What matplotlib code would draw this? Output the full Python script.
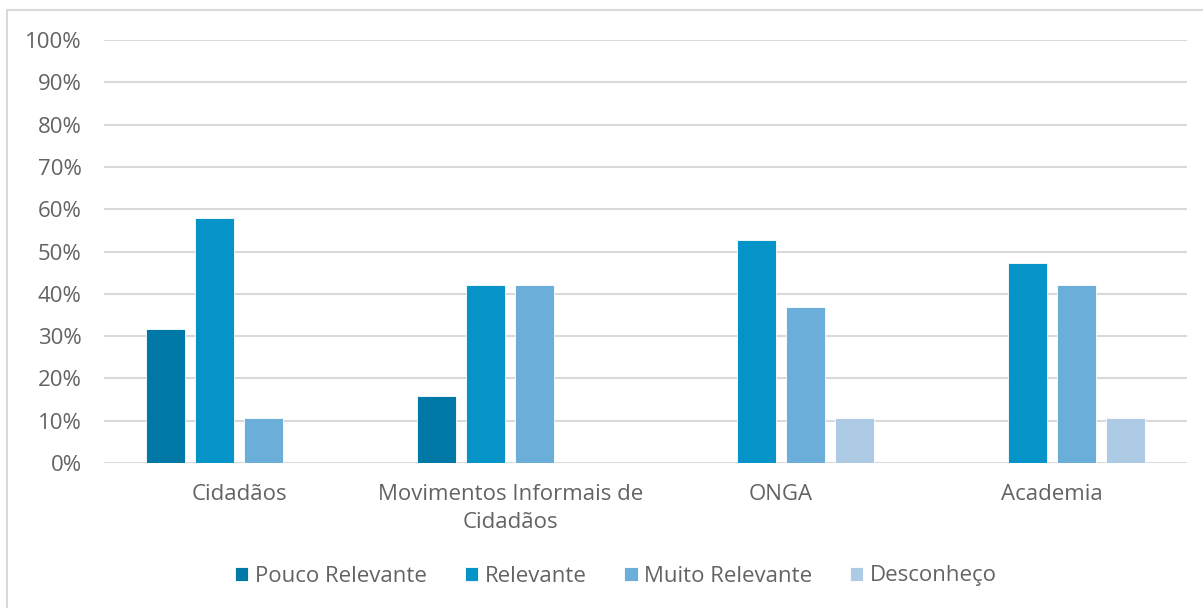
import numpy as np
import matplotlib.pyplot as plt
from matplotlib.patches import Rectangle
from matplotlib.ticker import PercentFormatter

plt.rcParams['font.family'] = ['Open Sans', 'DejaVu Sans']

categories = ['Cidadãos', 'Movimentos Informais de\nCidadãos', 'ONGA', 'Academia']
series = ['Pouco Relevante', 'Relevante', 'Muito Relevante', 'Desconheço']
pouco = [0.3158, 0.1579, 0.0, 0.0]
relevante = [0.5789, 0.4211, 0.5263, 0.4737]
muito = [0.1053, 0.4211, 0.3684, 0.4211]
desconheco = [0.0, 0.0, 0.1053, 0.1053]
colors = ['#0079A6', '#0593C8', '#6BAED9', '#AECBE6']

text_color = '#636363'
grid_color = '#D9D9D9'
fs = 16

fig = plt.figure(figsize=(12.03, 6.08), dpi=100)
ax = fig.add_axes([104 / 1203, 1 - 463 / 608, 1083 / 1203, 423 / 608])

# light frame around the whole chart area
fig.patches.append(Rectangle((7 / 1203, -0.05), 1.1, 1 - 10 / 608 + 0.05,
                             transform=fig.transFigure, fill=False,
                             edgecolor=grid_color, linewidth=1.5))

x = np.arange(len(categories))
step = 0.181
width = 0.144
for i, (name, vals) in enumerate(zip(series, [pouco, relevante, muito, desconheco])):
    ax.bar(x + (i - 1.5) * step, vals, width, color=colors[i], label=name,
           edgecolor='white', linewidth=0.6, zorder=3)

ax.set_xlim(-0.5, len(categories) - 0.5)
ax.set_ylim(0, 1)
ax.set_yticks(np.arange(0, 1.01, 0.1))
ax.yaxis.set_major_formatter(PercentFormatter(1.0, decimals=0))
ax.grid(axis='y', color=grid_color, linewidth=1.5, zorder=0)
ax.set_xticks(x)
ax.set_xticklabels(categories, fontsize=fs, color=text_color, linespacing=1.45)
ax.tick_params(axis='y', labelsize=fs, labelcolor=text_color, length=0, pad=16)
ax.tick_params(axis='x', length=0, pad=15)
for s in ax.spines.values():
    s.set_visible(False)

ax.legend(loc='center', bbox_to_anchor=(616 / 1203, 1 - 576 / 608),
          bbox_transform=fig.transFigure, ncol=4, frameon=False,
          fontsize=fs, labelcolor=text_color, handlelength=0.6,
          handleheight=0.6, handletextpad=0.3, columnspacing=1.7)

fig.savefig('out.png', dpi=100)
